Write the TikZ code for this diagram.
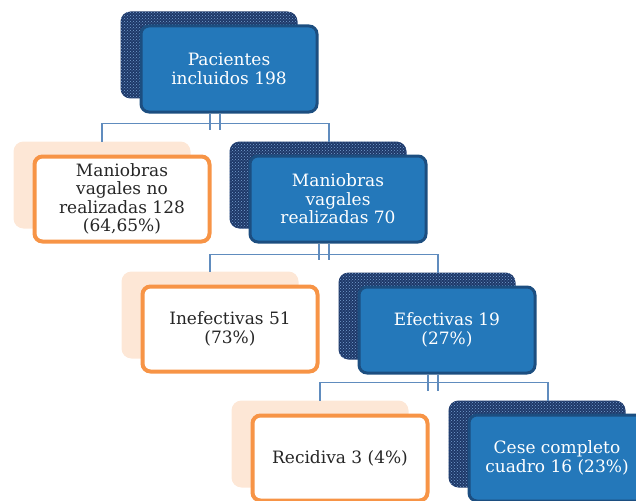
\documentclass[tikz,border=0pt]{standalone}
\usepackage{fontspec}
\setmainfont{DejaVu Serif}
\usepackage{tikz}
\usetikzlibrary{patterns,backgrounds}

\definecolor{boxblue}{RGB}{36,120,186}
\definecolor{boxedge}{RGB}{28,78,128}
\definecolor{shadenavy}{RGB}{30,56,104}
\definecolor{shadedot}{RGB}{120,160,210}
\definecolor{boxorange}{RGB}{247,148,70}
\definecolor{peach}{RGB}{253,231,214}
\definecolor{linkblue}{RGB}{96,140,190}

\tikzset{
  bluebox/.style={draw=boxedge, line width=3pt, fill=boxblue, rounded corners=8pt,
    minimum width=176pt, minimum height=86pt, text=white, align=center,
    font=\fontsize{17}{18.5}\selectfont},
  orangebox/.style={draw=boxorange, line width=4pt, fill=white, rounded corners=8pt,
    minimum width=175pt, minimum height=85pt, text=black!85, align=center,
    font=\fontsize{17}{18.5}\selectfont},
  blueshade/.style={rounded corners=10pt, fill=shadenavy,
    postaction={pattern=crosshatch dots, pattern color=shadedot}},
  peachshade/.style={rounded corners=10pt, fill=peach},
  link/.style={draw=linkblue, line width=1.2pt}
}

\begin{document}
\begin{tikzpicture}[x=1pt,y=-1pt]
\useasboundingbox (0,0) rectangle (636,500);

% first level
\node[bluebox] (pac) at (229,69) {Pacientes\\incluidos 198};

% second level
\node[orangebox] (noreal) at (122,199) {Maniobras\\vagales no\\realizadas 128\\(64,65\%)};
\node[bluebox] (real) at (338,199) {Maniobras\\vagales\\realizadas 70};

% third level
\node[orangebox] (inef) at (230,329) {Inefectivas 51\\(73\%)};
\node[bluebox] (efect) at (447,330) {Efectivas 19\\(27\%)};

% fourth level
\node[orangebox] (recid) at (340,458) {Recidiva 3 (4\%)};
\node[bluebox] (cese) at (557,458) {Cese completo\\cuadro 16 (23\%)};

% shadows behind the boxes
\begin{scope}[on background layer]
\foreach \n in {pac,real,efect,cese}
  \fill[blueshade] ([shift={(-19,-13)}]\n.north west) rectangle ([shift={(-21,-15)}]\n.south east);
\foreach \n in {noreal,inef,recid}
  \fill[peachshade] ([shift={(-19,-13)}]\n.north west) rectangle ([shift={(-21,-15)}]\n.south east);
\end{scope}

% connectors
\foreach \p/\l/\r in {pac/noreal/real, real/inef/efect, efect/recid/cese} {
  \draw[link] ([shift={(-19,0)}]\p.south) -- ++(0,16);
  \draw[link] ([shift={(-9,0)}]\p.south) -- ++(0,16);
  \draw[link] ([shift={(-20,-13)}]\l.north) |- ([shift={(-9,-31)}]\r.north)
    -- ([shift={(-9,-13)}]\r.north);
}
\end{tikzpicture}
\end{document}
